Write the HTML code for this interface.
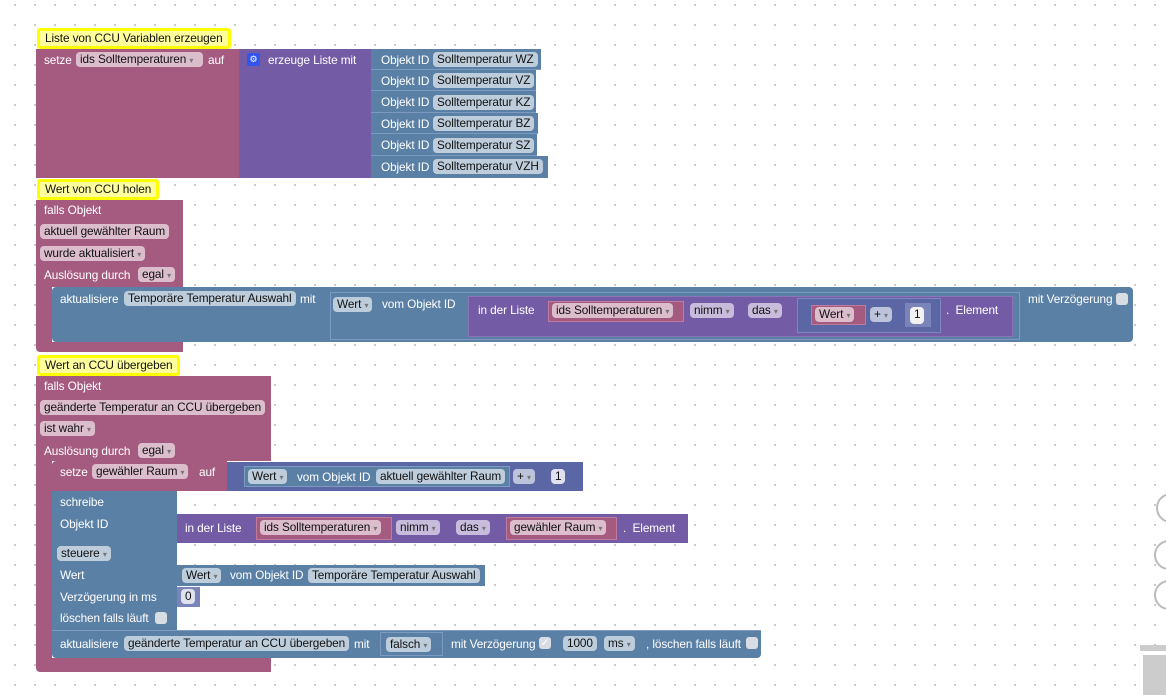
<!DOCTYPE html>
<html><head><meta charset="utf-8">
<style>
body{margin:0;width:1166px;height:688px;overflow:hidden;background:#fff;
background-image:radial-gradient(circle,#c8c8c8 1px,transparent 1.3px);background-size:20px 20px;background-position:5px -5px;
font-family:"Liberation Sans",Arial,sans-serif;font-size:11.8px;letter-spacing:-0.1px;position:relative}
div{position:absolute;box-sizing:border-box}
.m{background:#a55b80}.p{background:#745ba5}.b{background:#5b80a5}.n{background:#5b67a5}
.b2{background:#5b80a5;border:1px solid #7d9ac0}
.t{color:#fff;white-space:nowrap;line-height:14px}
.f{border-radius:4px;color:#111;white-space:nowrap;line-height:15px;height:15px;padding:0 4px}
.fm{background:#dbbdcc}.fb{background:#bdcddb}.fp{background:#c7bcdb}.fn{background:#bdc3db}.fw{background:#f2f2f2}
.c{background:#ffff9e;border:3px solid #ffff00;color:#111;padding:0 5px;line-height:14px;white-space:nowrap;border-radius:3px}
.ck{width:12px;height:12px;border-radius:3px;background:#d8dde4}
.ar{color:#777;font-size:8px}
</style></head><body>

<div class="c" style="left:37px;top:28px;width:194px;height:21px">Liste von CCU Variablen erzeugen</div>
<div class="m" style="left:36px;top:49px;width:203px;height:129px"></div>
<div class="t" style="left:44px;top:53px">setze</div>
<div class="f fm" style="left:76px;top:52px;width:127px">ids Solltemperaturen <span class="ar">▾</span></div>
<div class="t" style="left:208px;top:53px">auf</div>
<div class="p" style="left:239px;top:49px;width:132px;height:129px"></div>
<div style="left:247px;top:53px;width:13px;height:13px;background:#3355ee;border-radius:2px;color:#fff;font-size:9px;text-align:center;line-height:13px">⚙</div>
<div class="t" style="left:268px;top:53px">erzeuge Liste mit</div>

<div class="b" style="left:371px;top:49px;width:170px;height:21px;border-bottom:1px solid #7d9ac0"></div>
<div class="b" style="left:371px;top:70px;width:165px;height:21px;border-bottom:1px solid #7d9ac0"></div>
<div class="b" style="left:371px;top:91px;width:165px;height:22px;border-bottom:1px solid #7d9ac0"></div>
<div class="b" style="left:371px;top:113px;width:167px;height:21px;border-bottom:1px solid #7d9ac0"></div>
<div class="b" style="left:371px;top:134px;width:166px;height:22px;border-bottom:1px solid #7d9ac0"></div>
<div class="b" style="left:371px;top:156px;width:177px;height:22px"></div>
<div class="t" style="left:381px;top:53px">Objekt ID</div><div class="f fb" style="left:433px;top:52px">Solltemperatur WZ</div>
<div class="t" style="left:381px;top:74px">Objekt ID</div><div class="f fb" style="left:433px;top:73px">Solltemperatur VZ</div>
<div class="t" style="left:381px;top:95px">Objekt ID</div><div class="f fb" style="left:433px;top:95px">Solltemperatur KZ</div>
<div class="t" style="left:381px;top:117px">Objekt ID</div><div class="f fb" style="left:433px;top:116px">Solltemperatur BZ</div>
<div class="t" style="left:381px;top:138px">Objekt ID</div><div class="f fb" style="left:433px;top:138px">Solltemperatur SZ</div>
<div class="t" style="left:381px;top:160px">Objekt ID</div><div class="f fb" style="left:433px;top:159px">Solltemperatur VZH</div>

<div class="c" style="left:37px;top:179px;width:122px;height:21px">Wert von CCU holen</div>
<div class="m" style="left:36px;top:200px;width:147px;height:87px"></div>
<div class="m" style="left:36px;top:287px;width:16px;height:55px"></div>
<div class="m" style="left:36px;top:342px;width:147px;height:10px;border-radius:0 0 0 4px"></div>
<div class="t" style="left:44px;top:203px">falls Objekt</div>
<div class="f fm" style="left:40px;top:224px">aktuell gewählter Raum</div>
<div class="f fm" style="left:40px;top:246px">wurde aktualisiert <span class="ar">▾</span></div>
<div class="t" style="left:44px;top:268px">Auslösung durch</div>
<div class="f fm" style="left:138px;top:267px">egal <span class="ar">▾</span></div>

<div class="b" style="left:52px;top:287px;width:1081px;height:55px;border-radius:4px"></div>
<div class="t" style="left:60px;top:292px">aktualisiere</div>
<div class="f fb" style="left:124px;top:291px">Temporäre Temperatur Auswahl</div>
<div class="t" style="left:300px;top:292px">mit</div>
<div class="b2" style="left:330px;top:292px;width:690px;height:48px"></div>
<div class="f fb" style="left:333px;top:297px">Wert <span class="ar">▾</span></div>
<div class="t" style="left:382px;top:297px">vom Objekt ID</div>
<div class="p" style="left:468px;top:296px;width:545px;height:41px;border:1px solid #8a74b8"></div>
<div class="t" style="left:478px;top:303px">in der Liste</div>
<div class="m" style="left:548px;top:301px;width:136px;height:21px;border:1px solid #c07a9e"></div>
<div class="f fm" style="left:552px;top:303px">ids Solltemperaturen <span class="ar">▾</span></div>
<div class="f fp" style="left:690px;top:303px">nimm <span class="ar">▾</span></div>
<div class="f fp" style="left:748px;top:303px">das <span class="ar">▾</span></div>
<div class="n" style="left:797px;top:298px;width:144px;height:35px;border:1px solid #7d86c0"></div>
<div class="m" style="left:811px;top:305px;width:55px;height:20px;border:1px solid #c07a9e"></div>
<div class="f fm" style="left:815px;top:307px">Wert <span class="ar">▾</span></div>
<div class="f fn" style="left:870px;top:307px">+ <span class="ar">▾</span></div>
<div class="n" style="left:905px;top:303px;width:26px;height:24px;background:#7b84b8"></div>
<div class="f fw" style="left:910px;top:307px;height:17px">1</div>
<div class="t" style="left:946px;top:303px">.&nbsp;&nbsp;Element</div>
<div class="t" style="left:1028px;top:292px">mit Verzögerung</div>
<div class="ck" style="left:1116px;top:293px"></div>

<div class="c" style="left:37px;top:355px;width:143px;height:21px">Wert an CCU übergeben</div>
<div class="m" style="left:36px;top:376px;width:235px;height:85px"></div>
<div class="m" style="left:36px;top:461px;width:16px;height:197px"></div>
<div class="m" style="left:36px;top:658px;width:235px;height:14px;border-radius:0 0 0 4px"></div>
<div class="t" style="left:44px;top:379px">falls Objekt</div>
<div class="f fm" style="left:40px;top:400px">geänderte Temperatur an CCU übergeben</div>
<div class="f fm" style="left:40px;top:421px">ist wahr <span class="ar">▾</span></div>
<div class="t" style="left:44px;top:444px">Auslösung durch</div>
<div class="f fm" style="left:138px;top:443px">egal <span class="ar">▾</span></div>

<div class="m" style="left:52px;top:461px;width:175px;height:30px;border-radius:4px 0 0 0"></div>
<div class="t" style="left:60px;top:465px">setze</div>
<div class="f fm" style="left:92px;top:464px">gewähler Raum <span class="ar">▾</span></div>
<div class="t" style="left:199px;top:465px">auf</div>
<div class="n" style="left:227px;top:462px;width:356px;height:29px"></div>
<div class="b2" style="left:244px;top:466px;width:266px;height:21px"></div>
<div class="f fb" style="left:248px;top:469px">Wert <span class="ar">▾</span></div>
<div class="t" style="left:297px;top:470px">vom Objekt ID</div>
<div class="f fb" style="left:376px;top:469px">aktuell gewählter Raum</div>
<div class="f fn" style="left:513px;top:469px">+ <span class="ar">▾</span></div>
<div class="f fw" style="left:551px;top:469px;background:#dfe2ee">1</div>

<div class="b" style="left:52px;top:491px;width:125px;height:139px"></div>
<div class="t" style="left:60px;top:495px">schreibe</div>
<div class="t" style="left:60px;top:517px">Objekt ID</div>
<div class="f fb" style="left:57px;top:546px">steuere <span class="ar">▾</span></div>
<div class="t" style="left:60px;top:568px">Wert</div>
<div class="t" style="left:60px;top:590px">Verzögerung in ms</div>
<div class="t" style="left:60px;top:611px">löschen falls läuft</div>
<div class="ck" style="left:155px;top:612px"></div>

<div class="p" style="left:177px;top:514px;width:511px;height:29px"></div>
<div class="t" style="left:185px;top:521px">in der Liste</div>
<div class="m" style="left:256px;top:517px;width:136px;height:23px;border:1px solid #c07a9e"></div>
<div class="f fm" style="left:260px;top:520px">ids Solltemperaturen <span class="ar">▾</span></div>
<div class="f fp" style="left:396px;top:520px">nimm <span class="ar">▾</span></div>
<div class="f fp" style="left:456px;top:520px">das <span class="ar">▾</span></div>
<div class="m" style="left:506px;top:517px;width:111px;height:23px;border:1px solid #c07a9e"></div>
<div class="f fm" style="left:510px;top:520px">gewähler Raum <span class="ar">▾</span></div>
<div class="t" style="left:623px;top:521px">.&nbsp;&nbsp;Element</div>

<div class="b" style="left:177px;top:565px;width:308px;height:21px"></div>
<div class="f fb" style="left:182px;top:568px">Wert <span class="ar">▾</span></div>
<div class="t" style="left:230px;top:568px">vom Objekt ID</div>
<div class="f fb" style="left:308px;top:568px">Temporäre Temperatur Auswahl</div>
<div class="b" style="left:177px;top:587px;width:23px;height:20px;background:#7b84b8"></div>
<div class="f fw" style="left:181px;top:589px;background:#dfe2ee">0</div>

<div class="b" style="left:52px;top:630px;width:709px;height:28px;border-top:1px solid #7d9ac0;border-radius:0 0 4px 4px"></div>
<div class="t" style="left:60px;top:637px">aktualisiere</div>
<div class="f fb" style="left:124px;top:636px">geänderte Temperatur an CCU übergeben</div>
<div class="t" style="left:354px;top:637px">mit</div>
<div class="b2" style="left:380px;top:632px;width:63px;height:24px"></div>
<div class="f fb" style="left:386px;top:637px">falsch <span class="ar">▾</span></div>
<div class="t" style="left:451px;top:637px">mit Verzögerung</div>
<div class="ck" style="left:539px;top:637px;color:#fff;font-size:11px;line-height:12px;text-align:center">✓</div>
<div class="f fb" style="left:563px;top:636px">1000</div>
<div class="f fb" style="left:604px;top:636px">ms <span class="ar">▾</span></div>
<div class="t" style="left:646px;top:637px">, löschen falls läuft</div>
<div class="ck" style="left:746px;top:637px"></div>

<div style="left:1156px;top:493px;width:30px;height:30px;border:2px solid #bbb;border-radius:50%"></div>
<div style="left:1154px;top:540px;width:30px;height:30px;border:2px solid #bbb;border-radius:50%"></div>
<div style="left:1154px;top:580px;width:30px;height:30px;border:2px solid #bbb;border-radius:50%"></div>
<div style="left:1140px;top:645px;width:30px;height:6px;background:#ccc"></div>
<div style="left:1143px;top:655px;width:30px;height:40px;background:#ccc"></div>
</body></html>
